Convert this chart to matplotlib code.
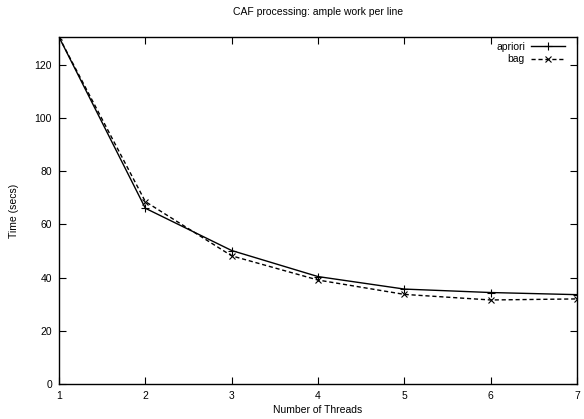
import matplotlib
matplotlib.use("Agg")
import matplotlib.pyplot as plt

plt.rcParams["font.family"] = ["Liberation Sans", "DejaVu Sans"]

threads = [1, 2, 3, 4, 5, 6, 7]
apriori = [130.5, 66.1, 50.2, 40.4, 35.7, 34.4, 33.6]
bag = [130.5, 68.6, 48.2, 39.1, 33.7, 31.6, 32.0]
yticks = [0, 20, 40, 60, 80, 100, 120]

fig = plt.figure(figsize=(5.84, 4.19), dpi=100)
ax = fig.add_axes([59 / 584, 35 / 419, 518 / 584, 347 / 419])

ax.plot(threads, apriori, color="black", lw=1.0, marker="+", ms=6, mew=0.8, label="apriori")
ax.plot(threads, bag, color="black", lw=1.0, ls=(0, (3, 2)), marker="x", ms=5, mew=0.8, label="bag")

ax.set_xlim(1, 7)
ax.set_ylim(0, 130.5)
ax.set_xticks(threads)
ax.set_yticks(yticks)
ax.tick_params(direction="in", length=5, width=0.8, top=True, right=True, labelsize=7.5, pad=5)
for s in ax.spines.values():
    s.set_linewidth(1.0)

ax.set_title("CAF processing: ample work per line", fontsize=7.5, pad=16)
ax.set_xlabel("Number of Threads", fontsize=7.5, labelpad=3)
ax.set_ylabel("Time (secs)", fontsize=7.5, labelpad=11)

ax.legend(loc="upper right", bbox_to_anchor=(0.985, 1.0), frameon=False, markerfirst=False,
          fontsize=7.5, handlelength=3.2, handletextpad=0.6, labelspacing=0.25, borderaxespad=0.05)

fig.savefig("out.png", dpi=100)
